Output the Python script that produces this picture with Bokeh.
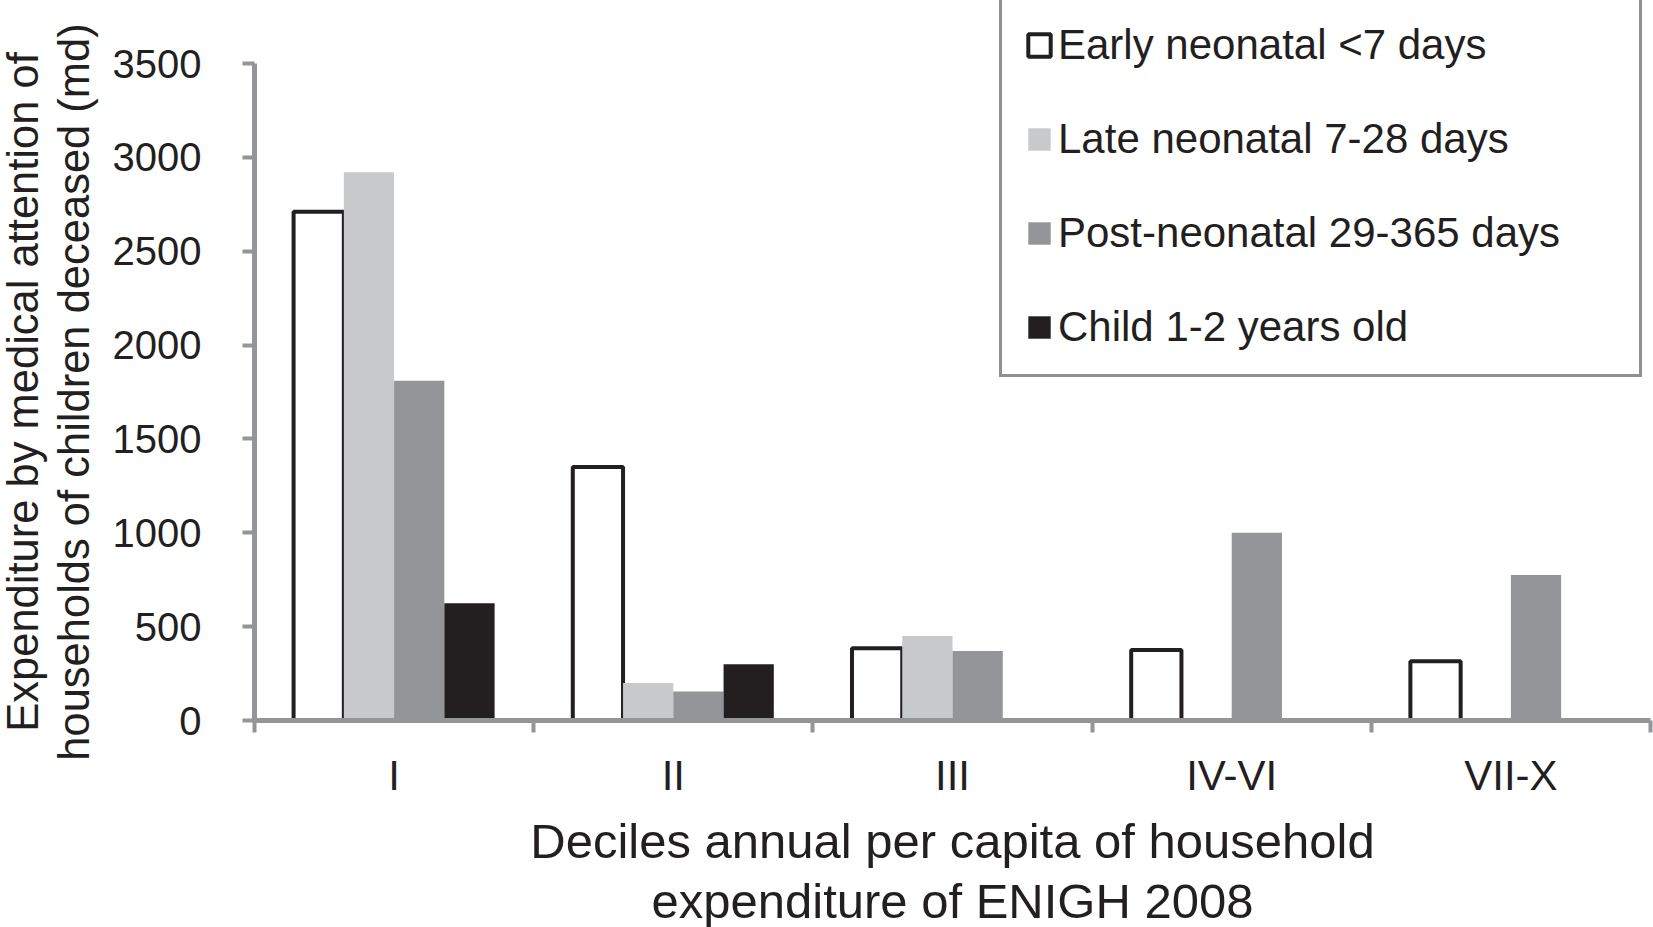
from bokeh.plotting import figure
from bokeh.models import FixedTicker, Range1d, Legend, LegendItem, ColumnDataSource
from bokeh.transform import dodge
from bokeh.embed import file_html
from bokeh.resources import INLINE

categories = ["I", "II", "III", "IV-VI", "VII-X"]
series_names = ["Early neonatal <7 days", "Late neonatal 7-28 days",
                "Post-neonatal 29-365 days", "Child 1-2 years old"]
early = [2710, 1350, 385, 375, 315]
late = [2920, 200, 450, 0, 0]
post = [1810, 155, 370, 1000, 775]
child = [625, 300, 0, 0, 0]
y_ticks = [0, 500, 1000, 1500, 2000, 2500, 3000, 3500]
y_max = 3500

x_title = "Deciles annual per capita of household\nexpenditure of ENIGH 2008"
y_title = "Expenditure by medical attention of\nhouseholds of children deceased (md)"

TXT = "#231f20"
FONT = "Liberation Sans"
AX = "#939598"

# layout (pixels inside the figure)
W, H = 1653, 927
ax_left, ax_right = 254, 1650      # x = 0 .. n categories
ax_top, ax_bottom = 63, 720        # y = y_max .. 0
ncat = len(categories)
px_x = (ax_right - ax_left) / ncat
px_y = (ax_bottom - ax_top) / y_max
x_range = Range1d(-ax_left / px_x, (W - ax_left) / px_x)
y_range = Range1d(-(H - ax_bottom) / px_y, y_max + ax_top / px_y)

centers = [i + 0.5 for i in range(ncat)]
src = ColumnDataSource(dict(x=centers, cat=categories, early=early, late=late, post=post, child=child))

p = figure(width=W, height=H, x_range=x_range, y_range=y_range,
           output_backend="svg", toolbar_location=None,
           min_border_left=0, min_border_right=0, min_border_top=0, min_border_bottom=0)
p.outline_line_color = None
p.grid.visible = False
p.background_fill_color = "white"
p.border_fill_color = "white"

bw = 0.18
r1 = p.vbar(x=dodge("x", -0.27), top="early", width=bw, source=src, fill_color="white",
            line_color=TXT, line_width=4)
r2 = p.vbar(x=dodge("x", -0.09), top="late", width=bw, source=src, fill_color="#c8c9cb", line_color=None)
r3 = p.vbar(x=dodge("x", 0.09), top="post", width=bw, source=src, fill_color="#939598", line_color=None)
r4 = p.vbar(x=dodge("x", 0.27), top="child", width=bw, source=src, fill_color="#231f20", line_color=None)

# x axis
xa = p.xaxis[0]
xa.fixed_location = 0
xa.bounds = (0, ncat)
xa.ticker = FixedTicker(ticks=centers, minor_ticks=list(range(ncat + 1)))
xa.major_label_overrides = {c: lab for c, lab in zip(centers, categories)}
xa.major_tick_line_alpha = 0
xa.major_tick_out = 12
xa.major_tick_in = 0
xa.minor_tick_out = 12
xa.minor_tick_in = 0
xa.minor_tick_line_color = AX
xa.minor_tick_line_width = 4
xa.axis_line_color = AX
xa.axis_line_width = 5
xa.major_label_text_font = FONT
xa.major_label_text_font_size = "42px"
xa.major_label_text_color = TXT
xa.major_label_standoff = 19
xa.axis_label = x_title
xa.axis_label_text_font = FONT
xa.axis_label_text_font_size = "49px"
xa.axis_label_text_font_style = "normal"
xa.axis_label_text_color = TXT
xa.axis_label_standoff = 12
xa.axis_label_text_line_height = 1.12

# y axis
ya = p.yaxis[0]
ya.fixed_location = 0
ya.bounds = (0, y_max)
ya.ticker = FixedTicker(ticks=y_ticks, minor_ticks=[])
ya.major_tick_out = 12
ya.major_tick_in = 0
ya.major_tick_line_color = AX
ya.major_tick_line_width = 4
ya.axis_line_color = AX
ya.axis_line_width = 5
ya.major_label_text_font = FONT
ya.major_label_text_font_size = "40px"
ya.major_label_text_color = TXT
ya.major_label_standoff = 41
ya.axis_label = y_title
ya.axis_label_text_font = FONT
ya.axis_label_text_font_size = "43.5px"
ya.axis_label_text_font_style = "normal"
ya.axis_label_text_color = TXT
ya.axis_label_standoff = 12
ya.axis_label_text_line_height = 1.06

legend = Legend(items=[LegendItem(label=n, renderers=[r]) for n, r in zip(series_names, [r1, r2, r3, r4])],
                location=(999, 550))
legend.border_line_color = TXT
legend.border_line_width = 3
legend.background_fill_color = "white"
legend.background_fill_alpha = 1
legend.label_text_font = FONT
legend.label_text_font_size = "42px"
legend.label_text_color = TXT
legend.glyph_width = 28
legend.glyph_height = 28
legend.label_standoff = 5
legend.label_width = 558
legend.padding = 23
legend.spacing = 46
legend.margin = 0
p.add_layout(legend, "center")

open("out.html", "w").write(file_html(p, INLINE))
